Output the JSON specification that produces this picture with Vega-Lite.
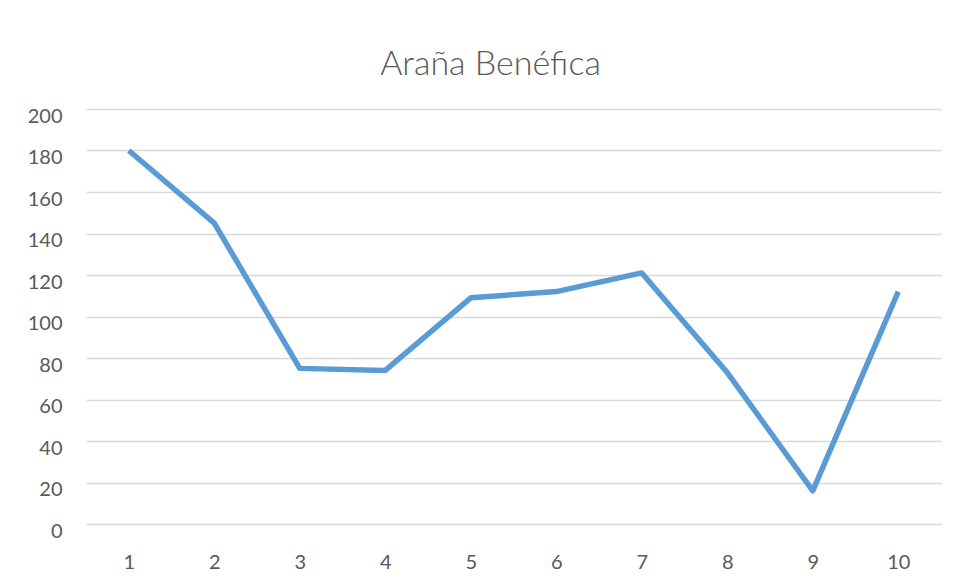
{
  "$schema": "https://vega.github.io/schema/vega-lite/v6.json",
  "autosize": "none",
  "width": 855,
  "height": 415,
  "padding": {"left": 86, "top": 109, "right": 17, "bottom": 57},
  "background": "white",
  "title": {
    "text": "Araña Benéfica",
    "font": "Lato",
    "fontSize": 34,
    "fontWeight": 300,
    "color": "#595959",
    "anchor": "middle",
    "dx": -23,
    "offset": 24
  },
  "data": {
    "values": [
      {"x": "1", "y": 180},
      {"x": "2", "y": 145},
      {"x": "3", "y": 75},
      {"x": "4", "y": 74},
      {"x": "5", "y": 109},
      {"x": "6", "y": 112},
      {"x": "7", "y": 121},
      {"x": "8", "y": 73},
      {"x": "9", "y": 16},
      {"x": "10", "y": 112}
    ]
  },
  "mark": {"type": "line", "color": "#5b9bd5", "strokeWidth": 5.5, "strokeJoin": "round", "strokeCap": "butt"},
  "encoding": {
    "x": {
      "field": "x",
      "type": "ordinal",
      "sort": null,
      "scale": {"type": "point", "padding": 0.5},
      "axis": {
        "title": null,
        "labelAngle": 0,
        "domain": false,
        "ticks": false,
        "grid": false,
        "labelFont": "Lato",
        "labelFontSize": 20,
        "labelFontWeight": "normal",
        "labelColor": "#595959",
        "labelPadding": 28,
        "labelBaseline": "top"
      }
    },
    "y": {
      "field": "y",
      "type": "quantitative",
      "scale": {"domain": [0, 200], "nice": false},
      "axis": {
        "title": null,
        "values": [0, 20, 40, 60, 80, 100, 120, 140, 160, 180, 200],
        "domain": false,
        "ticks": false,
        "grid": true,
        "gridColor": "#d9d9d9",
        "gridWidth": 1.5,
        "labelFont": "Lato",
        "labelFontSize": 20,
        "labelFontWeight": "normal",
        "labelColor": "#595959",
        "labelPadding": 24,
        "labelOffset": 7
      }
    }
  },
  "config": {"view": {"stroke": null}}
}
